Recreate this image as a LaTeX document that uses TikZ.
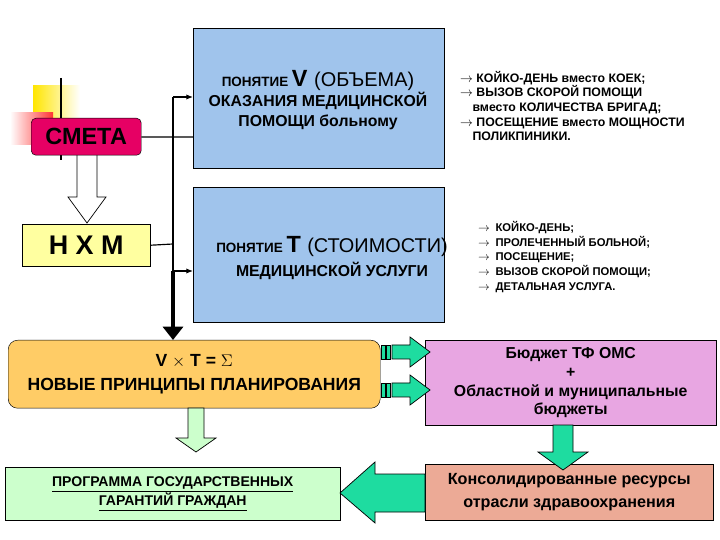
\documentclass[tikz,border=0pt]{standalone}
\usepackage{fontspec}
\setmainfont{Liberation Sans}
\usetikzlibrary{arrows.meta,positioning}
\definecolor{boxblue}{RGB}{160,196,236}
\definecolor{smeta}{RGB}{230,0,100}
\definecolor{nxm}{RGB}{255,255,160}
\definecolor{plan}{RGB}{255,204,102}
\definecolor{budget}{RGB}{232,166,226}
\definecolor{resurs}{RGB}{236,170,150}
\definecolor{garant}{RGB}{204,255,204}
\definecolor{teal}{RGB}{30,220,160}
\tikzstyle{box} = [rectangle, draw, inner sep=0pt, anchor=north west]
\tikzstyle{line} = [draw, -{Latex[length=2mm,width=1.6mm]}, line width=1pt]
\tikzstyle{note} = [anchor=west, inner sep=0pt, font=\fontsize{10.5}{12.5}\selectfont\bfseries]
\tikzstyle{fat} = [draw, line width=0.6pt]
\begin{document}
\begin{tikzpicture}[x=0.03cm, y=-0.03cm]
    \useasboundingbox (0,0) rectangle (720,540);
    % decoration behind smeta
    \fill[left color=yellow!80!orange, right color=white] (33,86) rectangle (80,118);
    \fill[left color=white, right color=red!80] (10,113) rectangle (53,145);
    \draw[line width=1.2pt] (61,78) -- (61,160);

    \node [box, fill=boxblue, minimum width=251*0.03cm, minimum height=140*0.03cm] (vbox) at (193,28) {};
    \node [box, fill=boxblue, minimum width=251*0.03cm, minimum height=135*0.03cm] (tbox) at (193,187) {};
    % hollow arrow smeta -> nxm
    \draw [fat, fill=white] (77,120) -- (97,120) -- (97,197) -- (106,197) -- (87,223) -- (68,197) -- (77,197) -- cycle;
    \node [box, fill=smeta, rounded corners=4pt, minimum width=110*0.03cm, minimum height=37*0.03cm,
      font=\fontsize{20}{22}\selectfont\bfseries] (smeta) at (31,118) {СМЕТА};
    \node [box, fill=nxm, minimum width=128*0.03cm, minimum height=42*0.03cm,
      font=\fontsize{23}{25}\selectfont\bfseries] (nxm) at (22,224) {Н Х М};
    \node [box, fill=plan, rounded corners=8pt, minimum width=372*0.03cm, minimum height=68*0.03cm,
      align=center, font=\fontsize{15}{21}\selectfont\bfseries] (plan) at (8,340)
      {V $\times$ T = $\Sigma$\\НОВЫЕ ПРИНЦИПЫ ПЛАНИРОВАНИЯ};
    \node [box, fill=budget, minimum width=291*0.03cm, minimum height=85*0.03cm,
      align=center, font=\fontsize{13.5}{16}\selectfont\bfseries] (budget) at (425,340)
      {Бюджет ТФ ОМС\\+\\Областной и муниципальные\\бюджеты};
    \node [box, fill=resurs, minimum width=288*0.03cm, minimum height=56*0.03cm,
      align=center, font=\fontsize{13.8}{19}\selectfont\bfseries] (resurs) at (425,464)
      {Консолидированные ресурсы\\отрасли здравоохранения};
    \node [box, fill=garant, minimum width=335*0.03cm, minimum height=53*0.03cm,
      align=center, font=\fontsize{12}{14}\selectfont\bfseries] (garant) at (5,467)
      {\underline{ПРОГРАММА ГОСУДАРСТВЕННЫХ}\\\underline{ГАРАНТИЙ ГРАЖДАН}};

    % texts in blue boxes
    \node [align=center, font=\fontsize{13.5}{17}\selectfont\bfseries] (vtext) at (318,100)
      {\fontsize{11.5}{17}\selectfont ПОНЯТИЕ \fontsize{20}{17}\selectfont V \fontsize{17}{17}\mdseries (ОБЪЕМА)\\ОКАЗАНИЯ МЕДИЦИНСКОЙ\\ПОМОЩИ больному};
    \node [align=center, font=\fontsize{13.5}{20}\selectfont\bfseries] (ttext) at (332,258)
      {\fontsize{11.5}{20}\selectfont ПОНЯТИЕ \fontsize{20}{20}\selectfont T \fontsize{17}{20}\mdseries(СТОИМОСТИ)\\МЕДИЦИНСКОЙ УСЛУГИ};

    \node [note, align=left] (vnotes) at (460,106)
      {$\rightarrow$ КОЙКО-ДЕНЬ вместо КОЕК;\\$\rightarrow$ ВЫЗОВ СКОРОЙ ПОМОЩИ\\\quad вместо КОЛИЧЕСТВА БРИГАД;\\$\rightarrow$ ПОСЕЩЕНИЕ вместо МОЩНОСТИ\\\quad ПОЛИКПИНИКИ.};
    \node [note, align=left, font=\fontsize{9.6}{12.5}\selectfont\bfseries] (tnotes) at (478,257)
      {$\rightarrow$\enspace КОЙКО-ДЕНЬ;\\$\rightarrow$\enspace ПРОЛЕЧЕННЫЙ БОЛЬНОЙ;\\$\rightarrow$\enspace ПОСЕЩЕНИЕ;\\$\rightarrow$\enspace ВЫЗОВ СКОРОЙ ПОМОЩИ;\\$\rightarrow$\enspace ДЕТАЛЬНАЯ УСЛУГА.};

    % connectors
    \coordinate (bus) at (173,244);
    \coordinate (top) at (173,97);
    \coordinate (low) at (173,271);
    \draw [gray!70!black, line width=1.5pt] (smeta.east) -- (smeta.east -| vbox.west);
    \draw [line width=1pt] (nxm.east) -- (bus);
    \draw [line width=1pt] (top) -- (low);
    \path [line] (top) -- (top -| vbox.west);
    \path [line] (low) -- (low -| tbox.west);
    \draw [line width=4pt, -{Triangle[length=4mm,width=6mm]}] (low) -- (plan.north -| low);

    % fat arrows
    \draw [fat, fill=garant] (188,408) -- (204,408) -- (204,438) -- (216,438) -- (196,452) -- (176,438) -- (188,438) -- cycle;
    \draw [fat, fill=teal] (553,425) -- (573,425) -- (573,452) -- (588,452) -- (563,470) -- (538,452) -- (553,452) -- cycle;
    \draw [fat, fill=teal] (425,474) -- (375,474) -- (375,462) -- (340,493) -- (375,523) -- (375,512) -- (425,512) -- cycle;
    \foreach \y/\n in {352/r1, 390/r2} {
      \draw [fat, fill=teal] (392,\y-7) -- (410,\y-7) -- (410,\y-15) -- (430,\y) -- (410,\y+15) -- (410,\y+7) -- (392,\y+7) -- cycle;
      \draw [fill=teal] (381,\y-7) rectangle (385,\y+7);
      \draw [fill=teal] (386,\y-7) rectangle (390,\y+7);
    }
\end{tikzpicture}
\end{document}
